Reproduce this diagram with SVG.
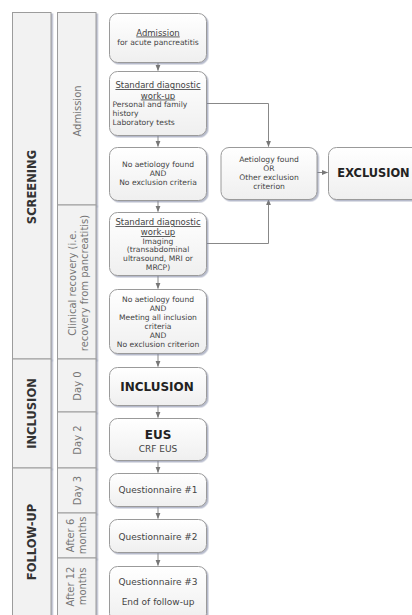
<svg xmlns="http://www.w3.org/2000/svg" width="412" height="615" viewBox="0 0 412 615">
<defs>
<linearGradient id="ng" x1="0" y1="0" x2="0" y2="1">
<stop offset="0" stop-color="#ffffff"/>
<stop offset="1" stop-color="#efefef"/>
</linearGradient>
<filter id="sh" x="-10%" y="-10%" width="130%" height="130%">
<feDropShadow dx="1.5" dy="1.5" stdDeviation="0.7" flood-color="#7a82a0" flood-opacity="0.55"/>
</filter>
<marker id="ah" viewBox="0 0 6 6" refX="5.5" refY="3" markerWidth="6" markerHeight="6" orient="auto" markerUnits="userSpaceOnUse">
<path d="M0,0.6 L6,3 L0,5.4 Z" fill="#777"/>
</marker>
</defs>
<style>
.lane{fill:#f2f2f2;stroke:#9c9c9c;stroke-width:1;filter:url(#sh)}
.node{fill:url(#ng);stroke:#9a9a9a;stroke-width:1;filter:url(#sh)}
.l1{font-family:"DejaVu Sans",Verdana,sans-serif;font-weight:bold;font-size:11.5px;fill:#333;text-anchor:middle}
.l2{font-family:"DejaVu Sans",Verdana,sans-serif;font-size:10px;fill:#777;text-anchor:middle}
.t{font-family:"DejaVu Sans",Verdana,sans-serif;font-size:7.6px;fill:#444;text-anchor:middle}
.tl{font-family:"DejaVu Sans",Verdana,sans-serif;font-size:7.6px;fill:#444;text-anchor:start}
.h{font-family:"DejaVu Sans",Verdana,sans-serif;font-size:8.5px;fill:#444;text-anchor:middle;text-decoration:underline}
.m{font-family:"DejaVu Sans",Verdana,sans-serif;font-size:9px;fill:#444;text-anchor:middle}
.b{font-family:"DejaVu Sans",Verdana,sans-serif;font-weight:bold;font-size:12px;fill:#222;text-anchor:middle}
.c{fill:none;stroke:#888;stroke-width:1;marker-end:url(#ah)}
</style>

<g id="lanes-phase">
<rect class="lane" x="12.5" y="12.5" width="38.5" height="346.5"/>
<rect class="lane" x="12.5" y="359" width="38.5" height="109"/>
<rect class="lane" x="12.5" y="468" width="38.5" height="150"/>
<text class="l1" transform="translate(36,187) rotate(-90)">SCREENING</text>
<text class="l1" transform="translate(36,413.5) rotate(-90)">INCLUSION</text>
<text class="l1" transform="translate(36,542) rotate(-90)">FOLLOW-UP</text>
</g>

<g id="lanes-time">
<rect class="lane" x="57.5" y="12.5" width="38.5" height="192.5"/>
<rect class="lane" x="57.5" y="205" width="38.5" height="154"/>
<rect class="lane" x="57.5" y="359" width="38.5" height="53"/>
<rect class="lane" x="57.5" y="412" width="38.5" height="56"/>
<rect class="lane" x="57.5" y="468" width="38.5" height="45"/>
<rect class="lane" x="57.5" y="513" width="38.5" height="45"/>
<rect class="lane" x="57.5" y="558" width="38.5" height="60"/>
<text class="l2" transform="translate(80.5,111) rotate(-90)">Admission</text>
<text class="l2" transform="translate(75.5,283) rotate(-90)">Clinical recovery (i.e.</text>
<text class="l2" transform="translate(87.5,283) rotate(-90)">recovery from pancreatitis)</text>
<text class="l2" transform="translate(80.5,386) rotate(-90)">Day 0</text>
<text class="l2" transform="translate(80.5,440) rotate(-90)">Day 2</text>
<text class="l2" transform="translate(80.5,490.5) rotate(-90)">Day 3</text>
<text class="l2" transform="translate(74,535.5) rotate(-90)">After 6</text>
<text class="l2" transform="translate(86,535.5) rotate(-90)">months</text>
<text class="l2" transform="translate(74,586.5) rotate(-90)">After 12</text>
<text class="l2" transform="translate(86,586.5) rotate(-90)">months</text>
</g>

<g id="connectors">
<path class="c" d="M158,62.5 V70.5"/>
<path class="c" d="M158,135.5 V146.5"/>
<path class="c" d="M158,200.5 V211.5"/>
<path class="c" d="M158,275.5 V288.5"/>
<path class="c" d="M158,353.5 V366.5"/>
<path class="c" d="M158,405.5 V417.5"/>
<path class="c" d="M158,460.5 V472.5"/>
<path class="c" d="M158,506.5 V518.5"/>
<path class="c" d="M158,552.5 V565.5"/>
<path class="c" d="M207,103.5 H268.5 V146.5"/>
<path class="c" d="M207,243.5 H268.5 V199.5"/>
<path class="c" d="M317,172.5 H327.5"/>
</g>

<g id="n-admission">
<rect class="node" x="109.5" y="13.5" width="97" height="49" rx="8"/>
<text class="h" x="158" y="35.5">Admission</text>
<text class="t" x="158" y="44.5">for acute pancreatitis</text>
</g>

<g id="n-workup1">
<rect class="node" x="109.5" y="71.5" width="97" height="64" rx="8"/>
<text class="h" x="158" y="88">Standard diagnostic</text>
<text class="h" x="158" y="98.5">work-up</text>
<text class="tl" x="112.5" y="107">Personal and family</text>
<text class="tl" x="112.5" y="116">history</text>
<text class="tl" x="112.5" y="125">Laboratory tests</text>
</g>

<g id="n-noaetiology1">
<rect class="node" x="109.5" y="147.5" width="97" height="53" rx="8"/>
<text class="t" x="158" y="167">No aetiology found</text>
<text class="t" x="158" y="175.5">AND</text>
<text class="t" x="158" y="184.5">No exclusion criteria</text>
</g>

<g id="n-workup2">
<rect class="node" x="109.5" y="212.5" width="97" height="63" rx="8"/>
<text class="h" x="158" y="225">Standard diagnostic</text>
<text class="h" x="158" y="235">work-up</text>
<text class="t" x="158" y="243.7">Imaging</text>
<text class="t" x="158" y="252.3">(transabdominal</text>
<text class="t" x="158" y="261.3">ultrasound, MRI or</text>
<text class="t" x="158" y="270.3">MRCP)</text>
</g>

<g id="n-noaetiology2">
<rect class="node" x="109.5" y="289.5" width="97" height="64" rx="8"/>
<text class="t" x="158" y="301.7">No aetiology found</text>
<text class="t" x="158" y="310.7">AND</text>
<text class="t" x="158" y="319.7">Meeting all inclusion</text>
<text class="t" x="158" y="328.7">criteria</text>
<text class="t" x="158" y="337.7">AND</text>
<text class="t" x="158" y="346.7">No exclusion criterion</text>
</g>

<g id="n-inclusion">
<rect class="node" x="109.5" y="367.5" width="97" height="38" rx="8"/>
<text class="b" x="157" y="390.5">INCLUSION</text>
</g>

<g id="n-eus">
<rect class="node" x="109.5" y="418.5" width="97" height="42" rx="8"/>
<text class="b" x="158" y="438.5">EUS</text>
<text class="m" x="158" y="451.5">CRF EUS</text>
</g>

<g id="n-q1">
<rect class="node" x="109.5" y="473.5" width="97" height="33" rx="8"/>
<text class="m" x="158" y="493">Questionnaire #1</text>
</g>

<g id="n-q2">
<rect class="node" x="109.5" y="519.5" width="97" height="33" rx="8"/>
<text class="m" x="158" y="540">Questionnaire #2</text>
</g>

<g id="n-q3">
<rect class="node" x="109.5" y="566.5" width="97" height="55" rx="8"/>
<text class="m" x="158" y="585">Questionnaire #3</text>
<text class="m" x="158" y="605">End of follow-up</text>
</g>

<g id="n-aetiology">
<rect class="node" x="221" y="147.5" width="96" height="52" rx="8"/>
<text class="t" x="269" y="162">Aetiology found</text>
<text class="t" x="269" y="170.5">OR</text>
<text class="t" x="269" y="179.5">Other exclusion</text>
<text class="t" x="269" y="188.5">criterion</text>
</g>

<g id="n-exclusion">
<rect class="node" x="328.5" y="147.5" width="98" height="52" rx="8"/>
<text class="b" x="373.5" y="176.5" style="font-size:11.4px">EXCLUSION</text>
</g>
</svg>
